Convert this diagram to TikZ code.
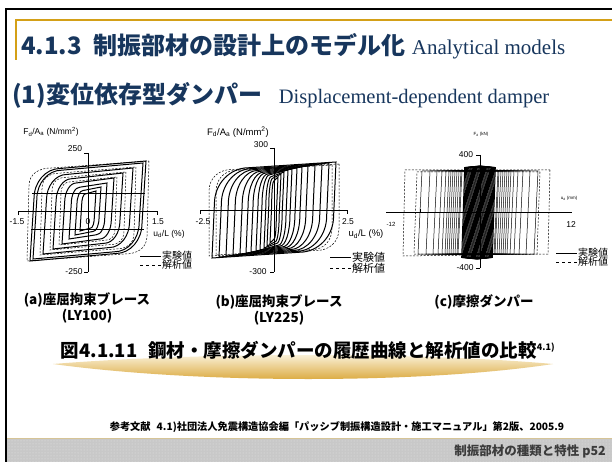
\documentclass[tikz,border=0pt]{standalone}
\usepackage{fontspec}
\setmainfont{Liberation Serif}
\setsansfont{Liberation Sans}
\newfontfamily\jpfont{Noto Sans CJK JP}
\usetikzlibrary{patterns}
\definecolor{navy}{RGB}{23,54,93}
\definecolor{framegold}{RGB}{212,160,23}
\definecolor{band}{RGB}{200,200,200}
\definecolor{bandline}{RGB}{214,196,150}
\definecolor{footgray}{RGB}{60,60,60}
\definecolor{glow}{RGB}{214,158,38}
\definecolor{cream}{RGB}{253,248,232}
\tikzset{
	axisline/.style={line width=0.6pt},
	testloop/.style={line width=1pt},
	simloop/.style={line width=0.5pt,dash pattern=on 2pt off 1.5pt},
	frictloop/.style={line width=0.5pt},
	ticklabel/.style={font=\sffamily\fontsize{8.5}{9}\selectfont,inner sep=0pt},
	tinylabel/.style={font=\sffamily\fontsize{4.5}{5}\selectfont,inner sep=0pt},
	legtext/.style={font=\jpfont\fontsize{10}{10}\selectfont,anchor=west,inner sep=0pt},
	subcap/.style={font=\jpfont\bfseries\fontsize{13.5}{14}\selectfont,inner sep=0pt}
}
\begin{document}
\begin{tikzpicture}[x=1pt,y=-1pt]
	\useasboundingbox (0,0) rectangle (612,462);
	\fill[white] (0,0) rectangle (612,462);
	\fill[band] (7,438) rectangle (612,462);
	\fill[pattern=dots,pattern color=white!55!band] (7,438) rectangle (612,462);
	\draw[bandline,line width=1pt] (7,438) -- (612,438);
	\draw[line width=2pt] (6,462) -- (6,9) -- (612,9);
	\draw[framegold,line width=1.2pt] (16,60) -- (16,20) -- (612,20);
	\node[anchor=west,inner sep=0pt,text=navy] (title) at (21,46) {\jpfont\bfseries\fontsize{24}{25}\selectfont 4.1.3\hspace{0.5em}制振部材の設計上のモデル化\hspace{0.25em}{\rmfamily\mdseries\fontsize{21}{22}\selectfont Analytical models}};
	\node[anchor=west,inner sep=0pt,text=navy] (subtitle) at (12,95) {\jpfont\bfseries\fontsize{24}{25}\selectfont (1)変位依存型ダンパー\hspace{0.7em}{\rmfamily\mdseries\fontsize{20.5}{21}\selectfont Displacement-dependent damper}};

	\draw[axisline] (88,153) -- (88,272);
	\draw[axisline] (84,153) -- (88,153);
	\draw[axisline] (84,272) -- (88,272);
	\draw[axisline] (18,215) -- (18,211) -- (157,211) -- (157,215);
	\node[ticklabel] (ya-top) at (75,149) {250};
	\node[ticklabel] (ya-bot) at (74,272) {-250};
	\node[ticklabel] (xa-left) at (17,222) {-1.5};
	\node[ticklabel] (xa-right) at (158,222) {1.5};
	\node[ticklabel] (xa-zero) at (88,222) {0};
	\node[ticklabel] (xa-name) at (169,234) {u\textsubscript{d}/L (\%)};
	\node[ticklabel] (ya-name) at (51,132) {F\textsubscript{d}/A\textsubscript{a} (N/mm\textsuperscript{2})};
	\begin{scope}[shift={(88,211)},yscale=-1]
		\foreach \a/\h in {58/50,55/48,45/43,35/38,26/33,19/28,13/24,8/20}{
			\pgfmathsetmacro\lpe{0.08*\h}
			\pgfmathsetmacro\lps{0.15*\h}
			\pgfmathsetmacro\lpr{0.6*\h}
			\pgfmathsetmacro\lpq{0.45*\a}
			\draw[testloop] (\a,\h) -- ({\a-\lpe},{-\h+\lps+\lpr}) .. controls ({\a-\lpe},{-\h+\lps+0.45*\lpr}) and ({\a-\lpe-0.45*\lpq},{-\h+\lps}) .. ({\a-\lpe-\lpq},{-\h+\lps}) -- (-\a,-\h) -- ({-\a+\lpe},{\h-\lps-\lpr}) .. controls ({-\a+\lpe},{\h-\lps-0.45*\lpr}) and ({-\a+\lpe+0.45*\lpq},{\h-\lps}) .. ({-\a+\lpe+\lpq},{\h-\lps}) -- cycle;
		}
		\foreach \a/\h in {61/50,48/44,38/39,29/34}{
			\draw[simloop] (\a,\h) -- ({\a-2},{-0.5*\h}) .. controls ({\a-2},{-0.75*\h}) and ({0.8*\a},{-0.86*\h}) .. ({0.6*\a},{-0.86*\h}) -- (-\a,-\h) -- ({-\a+2},{0.5*\h}) .. controls ({-\a+2},{0.75*\h}) and ({-0.8*\a},{0.86*\h}) .. ({-0.6*\a},{0.86*\h}) -- cycle;
		}
		\draw[axisline] (-56,18) -- (57,18);
		\draw[axisline] (-57,-18) -- (56,-18);
	\end{scope}
	\coordinate (lega-s1) at (140,256);
	\coordinate (lega-s2) at (161,256);
	\coordinate (lega-d1) at (140,265);
	\coordinate (lega-d2) at (161,265);
	\draw[axisline] (lega-s1) -- (lega-s2);
	\draw[axisline,dashed] (lega-d1) -- (lega-d2);
	\node[legtext] (lega-test) at (162,256) {実験値};
	\node[legtext] (lega-sim) at (162,265) {解析値};
	\node[subcap] (cap-a1) at (87,300) {(a)座屈拘束ブレース};
	\node[subcap] (cap-a2) at (87,316) {(LY100)};

	\draw[axisline] (274,148) -- (274,272);
	\draw[axisline] (270,148) -- (274,148);
	\draw[axisline] (270,272) -- (274,272);
	\draw[axisline] (200,214) -- (200,210) -- (347,210) -- (347,214);
	\node[ticklabel] (yb-top) at (261,145) {300};
	\node[ticklabel] (yb-bot) at (258,272) {-300};
	\node[ticklabel] (xb-left) at (203,222) {-2.5};
	\node[ticklabel] (xb-right) at (348,222) {2.5};
	\node[ticklabel,font=\sffamily\fontsize{9.5}{10}\selectfont] (xb-name) at (366,234) {u\textsubscript{d}/L (\%)};
	\node[ticklabel,font=\sffamily\fontsize{9.5}{10}\selectfont] (yb-name) at (238,132) {F\textsubscript{d}/A\textsubscript{a} (N/mm\textsuperscript{2})};
	\begin{scope}[shift={(274,210)},yscale=-1]
		\foreach \a/\h in {62/48,55/47,48/46,41/45,34/44,28/43,23/42,18/41,14/40,10/38,7/36,4/33}{
			\pgfmathsetmacro\lpe{0.05*\h}
			\pgfmathsetmacro\lps{0.12*\h}
			\pgfmathsetmacro\lpr{0.75*\h}
			\pgfmathsetmacro\lpq{0.55*\a}
			\draw[testloop] (\a,\h) -- ({\a-\lpe},{-\h+\lps+\lpr}) .. controls ({\a-\lpe},{-\h+\lps+0.45*\lpr}) and ({\a-\lpe-0.45*\lpq},{-\h+\lps}) .. ({\a-\lpe-\lpq},{-\h+\lps}) -- (-\a,-\h) -- ({-\a+\lpe},{\h-\lps-\lpr}) .. controls ({-\a+\lpe},{\h-\lps-0.45*\lpr}) and ({-\a+\lpe+0.45*\lpq},{\h-\lps}) .. ({-\a+\lpe+\lpq},{\h-\lps}) -- cycle;
		}
		\foreach \a/\h in {65/46,58/45}{
			\draw[simloop] (\a,\h) -- (\a,{-0.4*\h}) .. controls (\a,{-0.7*\h}) and ({0.85*\a},{-0.88*\h}) .. ({0.65*\a},{-0.88*\h}) -- (-\a,-\h) -- (-\a,{0.4*\h}) .. controls (-\a,{0.7*\h}) and ({-0.85*\a},{0.88*\h}) .. ({-0.65*\a},{0.88*\h}) -- cycle;
		}
	\end{scope}
	\coordinate (legb-s1) at (330,257);
	\coordinate (legb-s2) at (351,257);
	\coordinate (legb-d1) at (330,268);
	\coordinate (legb-d2) at (351,268);
	\draw[axisline] (legb-s1) -- (legb-s2);
	\draw[axisline,dashed] (legb-d1) -- (legb-d2);
	\node[legtext,font=\jpfont\fontsize{11}{11}\selectfont] (legb-test) at (352,257) {実験値};
	\node[legtext,font=\jpfont\fontsize{11}{11}\selectfont] (legb-sim) at (352,268) {解析値};
	\node[subcap] (cap-b1) at (279,302) {(b)座屈拘束ブレース};
	\node[subcap] (cap-b2) at (279,318) {(LY225)};

	\draw[axisline] (480,155) -- (480,268);
	\draw[axisline] (476,155) -- (480,155);
	\draw[axisline] (476,268) -- (480,268);
	\draw[axisline] (386,212) -- (572,212);
	\draw[axisline] (420,212) -- (420,209);
	\node[ticklabel] (yc-top) at (466,155) {400};
	\node[ticklabel] (yc-bot) at (465,268) {-400};
	\node[ticklabel,font=\sffamily\fontsize{6}{6}\selectfont] (xc-left) at (391,224) {-12};
	\node[ticklabel] (xc-right) at (571,225) {12};
	\node[tinylabel] (xc-name) at (569,198) {u\textsubscript{d} (mm)};
	\node[tinylabel] (yc-name) at (481,134) {F\textsubscript{d} (kN)};
	\begin{scope}[shift={(480,212)},yscale=-1]
		\foreach \a in {0,0.9,...,16}{
			\draw[line width=1pt] (\a,{46-0.1*\a}) -- ({\a-3},{-47+0.1*\a}) -- ({-\a-3},{-47+0.1*\a}) -- ({-\a},{46-0.1*\a}) -- cycle;
		}
		\foreach \a in {58,50,43,38,34,31,29,27,25,23,21,19,18}{
			\draw[frictloop] (\a,41) -- ({\a-4},-42) -- ({-\a-4},-42) -- ({-\a},41) -- cycle;
		}
		\draw[simloop] (70,42) -- (68,-42) -- (-77,-44) -- (-75,42) -- cycle;
		\draw[simloop] (60,40) -- (57,-42) -- (-66,-42) -- (-63,40) -- cycle;
	\end{scope}
	\coordinate (legc-s1) at (556,253);
	\coordinate (legc-s2) at (577,253);
	\coordinate (legc-d1) at (556,262);
	\coordinate (legc-d2) at (577,262);
	\draw[axisline] (legc-s1) -- (legc-s2);
	\draw[axisline,dashed] (legc-d1) -- (legc-d2);
	\node[legtext] (legc-test) at (578,253) {実験値};
	\node[legtext] (legc-sim) at (578,262) {解析値};
	\node[subcap] (cap-c) at (484,302) {(c)摩擦ダンパー};

	\shade[top color=cream,bottom color=glow] (53,364) .. controls (200,352) and (420,352) .. (553,364) .. controls (420,384) and (200,384) .. (53,364) -- cycle;
	\node[inner sep=0pt] (figcap) at (308,350) {\jpfont\bfseries\fontsize{18.5}{19}\selectfont 図4.1.11\hspace{0.6em}鋼材・摩擦ダンパーの履歴曲線と解析値の比較\textsuperscript{\fontsize{9}{9}\selectfont 4.1)}};
	\node[inner sep=0pt] (refline) at (337,427) {\jpfont\bfseries\fontsize{10.2}{10}\selectfont 参考文献\hspace{0.6em}4.1)社団法人免震構造協会編「パッシブ制振構造設計・施工マニュアル」第2版、2005.9};
	\node[anchor=east,inner sep=0pt,text=footgray] (footer) at (606,451) {\jpfont\bfseries\fontsize{12.5}{13}\selectfont 制振部材の種類と特性 p52};
\end{tikzpicture}
\end{document}
